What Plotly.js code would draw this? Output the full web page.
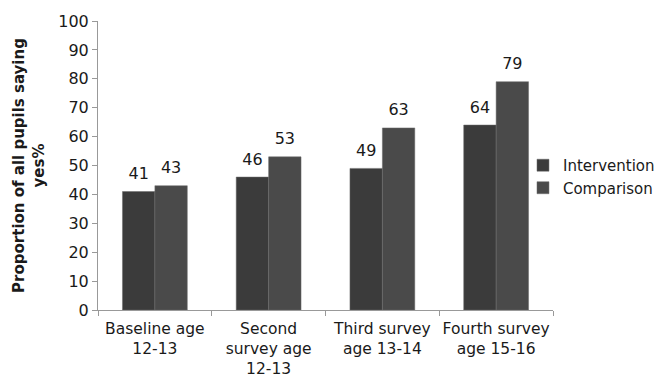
<!DOCTYPE html>
<html>
<head>
<meta charset="utf-8">
<script src="https://cdn.plot.ly/plotly-3.0.1.min.js"></script>
<style>html,body{margin:0;padding:0;background:#fff;}#chart{width:659px;height:378px;}</style>
</head>
<body>
<div id="chart"></div>
<script>
const categories = ["Baseline age<br>12-13", "Second<br>survey age<br>12-13", "Third survey<br>age 13-14", "Fourth survey<br>age 15-16"];
const intervention = [41, 46, 49, 64];
const comparison = [43, 53, 63, 79];
const seriesNames = ["Intervention", "Comparison"];
const yTicks = [0, 10, 20, 30, 40, 50, 60, 70, 80, 90, 100];

const font = {family: "DejaVu Sans, sans-serif", size: 16, color: "#1a1a1a"};
const tickFontX = {family: "DejaVu Sans, sans-serif", size: 15.5, color: "#1a1a1a"};
const legendFont = {family: "DejaVu Sans, sans-serif", size: 15, color: "#1a1a1a"};
const colors = ["#3b3b3b", "#4a4a4a"];

const series = [intervention, comparison];
const traces = [];
series.forEach((vals, i) => {
  traces.push({type: "bar", name: seriesNames[i], x: categories, y: vals,
    offsetgroup: String(i), marker: {color: colors[i], line: {color: "#6a6a6a", width: 0.5}}});
});
series.forEach((vals, i) => {
  traces.push({type: "scatter", mode: "markers+text", x: categories, y: vals, showlegend: false,
    offsetgroup: String(i), text: vals.map(String), textposition: "top center", textfont: font,
    cliponaxis: false, marker: {size: 12, color: "rgba(0,0,0,0)"}, hoverinfo: "skip"});
});

const layout = {
  width: 659, height: 378,
  margin: {l: 98, r: 106, t: 21, b: 68, autoexpand: false},
  paper_bgcolor: "#fff", plot_bgcolor: "#fff",
  font: font,
  barmode: "group", bargap: 0.43, bargroupgap: 0,
  scattermode: "group", scattergap: 0.43,
  showlegend: true,
  legend: {x: 0.934, y: 0.462, xanchor: "left", yanchor: "middle", font: legendFont,
           tracegroupgap: 0, bgcolor: "rgba(0,0,0,0)"},
  xaxis: {
    type: "category", showline: true, linecolor: "#999", linewidth: 1,
    ticks: "outside", tickson: "boundaries", ticklen: 5, tickcolor: "#999",
    tickangle: 0, tickfont: tickFontX, ticklabelstandoff: 4,
    showgrid: false, zeroline: false, automargin: false
  },
  yaxis: {
    range: [0, 100], tickvals: yTicks, showline: true, linecolor: "#999", linewidth: 1,
    ticks: "outside", ticklen: 5, tickcolor: "#999", tickfont: font,
    showgrid: false, zeroline: false, automargin: false,
    title: {text: "Proportion of all pupils saying<br>yes%", font: {family: "DejaVu Sans, sans-serif", size: 15, color: "#1a1a1a", weight: "bold"}, standoff: 10}
  }
};

Plotly.newPlot("chart", traces, layout, {displayModeBar: false, staticPlot: true});
</script>
</body>
</html>
